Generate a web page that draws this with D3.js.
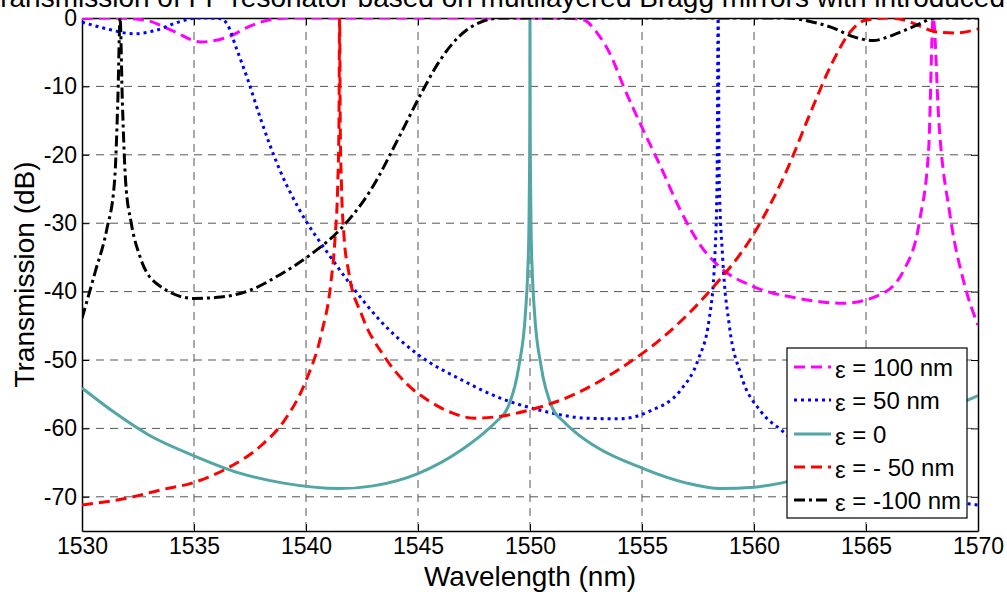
<!DOCTYPE html>
<html>
<head>
<meta charset="utf-8">
<script src="https://cdn.jsdelivr.net/npm/d3@7"></script>
<style>
  html, body { margin: 0; padding: 0; background: #fff; }
  svg { display: block; font-family: "Liberation Sans", Arial, sans-serif; }
</style>
</head>
<body>
<svg id="chart" width="1007" height="592"></svg>
<script>
// ---------- data (wavelength nm, transmission dB) ----------
const titleText = "Transmission of FP resonator based on multilayered Bragg mirrors with introduced";
const xLabel = "Wavelength (nm)";
const yLabel = "Transmission (dB)";
const xTicks = [1530, 1535, 1540, 1545, 1550, 1555, 1560, 1565, 1570];
const yTicks = [0, -10, -20, -30, -40, -50, -60, -70];

const eps100 = [[1530,-0.1],[1531.5,0],[1532.8,-0.3],[1534,-1.8],[1535.3,-3.5],[1536.5,-2.8],[1537.5,-1.2],[1538.5,-0.2],[1539.5,0],
  [1551.5,0],[1552.4,-0.3],[1553,-2.2],[1553.6,-5.4],[1554.15,-9.8],[1555,-16],[1555.8,-21.5],[1556.7,-28],[1557.6,-33.2],[1558.5,-36.5],
  [1560,-39.3],[1562,-41],[1564,-41.7],[1565.6,-40.5],[1566.7,-36.8],[1567.4,-29.5],[1567.8,-19],[1568,0],[1568.25,-15],[1568.75,-28.8],[1569.4,-39],[1570,-44.9]];

const eps50 = [[1530,-0.6],[1531,-1.5],[1532.3,-2.3],[1533.3,-1.8],[1534.3,-0.6],[1535.2,0],[1536.2,-0.1],[1536.5,-1],[1536.9,-4.5],[1537.4,-9],
  [1538,-15],[1538.8,-22],[1539.7,-28],[1541,-34.5],[1542,-39],[1543.3,-44.2],[1545,-49.2],[1547,-53],[1548.7,-55.6],[1550.4,-57.3],
  [1552.5,-58.5],[1554,-58.6],[1555.4,-57.4],[1556.7,-54.5],[1557.5,-50],[1558,-44],[1558.25,-35],[1558.35,-24],[1558.4,0],[1558.45,-24],
  [1558.6,-35],[1558.9,-45],[1559.4,-52],[1560.3,-57.5],[1561.2,-60.2],[1562.5,-63.5],[1564,-66],[1566,-68.5],[1568,-70.2],[1570,-71.2]];

const eps0 = [[1530,-54.1],[1531.5,-57.8],[1533,-61],[1535,-64],[1537,-66.5],[1539,-68],[1541.5,-68.8],[1543,-68.4],[1545,-66.6],[1547,-63],
  [1548,-60.5],[1548.5,-59],[1549,-57],[1549.5,-51],[1549.8,-43],[1549.9,-37],[1549.95,-31],[1549.98,-22],[1549.99,-16],[1550,0],
  [1550.01,-16],[1550.02,-22],[1550.05,-31],[1550.1,-37],[1550.2,-43],[1550.5,-51],[1551,-57],[1551.5,-59],[1552,-60.5],[1553,-62.8],[1555,-65.8],
  [1557,-68],[1558.5,-68.8],[1560,-68.6],[1561.2,-68],[1563,-66.5],[1565,-64],[1567,-60.5],[1568.5,-57.5],[1570,-55.2]];

const epsM50 = [[1530,-71.2],[1532,-70.2],[1533.5,-69],[1535,-67.9],[1536.5,-65.8],[1538,-62.5],[1539,-59],[1540,-53],[1540.7,-46],[1541.1,-39],
  [1541.3,-32],[1541.42,-24],[1541.47,-16],[1541.5,0],[1541.53,-16],[1541.58,-24],[1541.7,-32],[1541.9,-37],[1542.5,-43.5],[1543.5,-49.5],
  [1544.5,-53.5],[1545.5,-56],[1546.5,-57.7],[1547.5,-58.5],[1548.5,-58.3],[1550,-57.3],[1552,-55],[1554,-51.3],[1556,-46.5],[1558,-40],
  [1560,-31.5],[1561.5,-22],[1562.5,-14],[1563.5,-6.5],[1564.3,-2],[1565,-0.3],[1566,0],[1566.8,-0.4],[1567.5,-1.3],[1568.1,-2],[1569,-2.2],[1570,-1.6]];

const epsM100 = [[1530,-43.9],[1530.6,-37],[1531.1,-31],[1531.45,-24],[1531.6,-12],[1531.7,0],[1531.8,-12],[1531.95,-24],[1532.2,-30],
  [1532.6,-35],[1533.4,-39],[1535,-41],[1536.2,-40.8],[1537.5,-39.8],[1538.8,-37.6],[1540.2,-34.6],[1541.5,-31],[1542.9,-25.1],
  [1544.2,-17.1],[1545.1,-11.3],[1546,-6.1],[1546.9,-2.5],[1547.8,-0.6],[1548.7,0],[1561.5,0],[1562.5,-0.5],[1563.4,-1.3],[1564.5,-2.8],
  [1565.3,-3.3],[1566.2,-2.5],[1567.3,-1],[1568.1,0],[1570,0]];

const seriesNames = ["ε = 100 nm", "ε = 50 nm", "ε = 0", "ε = - 50 nm", "ε = -100 nm"];
const seriesData = [eps100, eps50, eps0, epsM50, epsM100];
const seriesColors = ["#ff00ff", "#0000ff", "#52a6a6", "#ff0000", "#000000"];
const seriesDash = ["11,6", "3,4", null, "11,6", "11,4,3,4"];

// ---------- layout ----------
const svg = d3.select("#chart");
const L = 82, T = 18, R = 978, B = 531;
const x = d3.scaleLinear().domain([1530, 1570]).range([L, R]);
const y = d3.scaleLinear().domain([-75, 0]).range([B, T]);

svg.append("defs").append("clipPath").attr("id", "plotclip")
  .append("rect").attr("x", L).attr("y", T).attr("width", R - L).attr("height", B - T);

// title (partially cut off at top)
svg.append("text").attr("x", 1005).attr("y", 7).attr("text-anchor", "end")
  .attr("font-size", 28).attr("fill", "#000").text(titleText);

// grid
const grid = svg.append("g");
grid.selectAll("line.gx").data(xTicks.slice(1, -1)).join("line")
  .attr("x1", d => x(d)).attr("x2", d => x(d)).attr("y1", T).attr("y2", B)
  .attr("stroke", "#555").attr("stroke-width", 1).attr("stroke-dasharray", "8,6");
grid.selectAll("line.gy").data(yTicks.slice(1)).join("line")
  .attr("x1", L).attr("x2", R).attr("y1", d => y(d)).attr("y2", d => y(d))
  .attr("stroke", "#555").attr("stroke-width", 1).attr("stroke-dasharray", "8,6");

// axes (MATLAB-style, ticks inward, box)
const fmt = d => String(d);
const axB = d3.axisBottom(x).tickValues(xTicks).tickFormat(fmt).tickSizeInner(-7).tickSizeOuter(0).tickPadding(7);
const axT = d3.axisTop(x).tickValues(xTicks).tickFormat("").tickSizeInner(-7).tickSizeOuter(0);
const axLft = d3.axisLeft(y).tickValues(yTicks).tickFormat(fmt).tickSizeInner(-7).tickSizeOuter(0).tickPadding(5);
const axRt = d3.axisRight(y).tickValues(yTicks).tickFormat("").tickSizeInner(-7).tickSizeOuter(0);

function styleAxis(g) {
  g.selectAll("path").attr("stroke", "#000").attr("stroke-width", 1.5);
  g.selectAll("line").attr("stroke", "#000").attr("stroke-width", 1);
  g.selectAll("text").attr("font-size", 23).attr("fill", "#000")
    .attr("font-family", "'Liberation Sans', Arial, sans-serif");
}
svg.append("g").attr("transform", `translate(0,${B})`).call(axB).call(styleAxis);
svg.append("g").attr("transform", `translate(0,${T})`).call(axT).call(styleAxis);
svg.append("g").attr("transform", `translate(${L},0)`).call(axLft).call(styleAxis);
svg.append("g").attr("transform", `translate(${R},0)`).call(axRt).call(styleAxis);

// axis labels
svg.append("text").attr("x", (L + R) / 2).attr("y", 586).attr("text-anchor", "middle")
  .attr("font-size", 28).attr("fill", "#000").text(xLabel);
svg.append("text").attr("transform", `translate(34,${(T + B) / 2}) rotate(-90)`).attr("text-anchor", "middle")
  .attr("font-size", 28).attr("fill", "#000").text(yLabel);

// curves
const line = d3.line().x(d => x(d[0])).y(d => y(d[1])).curve(d3.curveMonotoneX);
const curves = svg.append("g").attr("clip-path", "url(#plotclip)");
seriesData.forEach((data, i) => {
  curves.append("path").datum(data).attr("d", line)
    .attr("fill", "none").attr("stroke", seriesColors[i]).attr("stroke-width", 3)
    .attr("stroke-dasharray", seriesDash[i])
    .attr("stroke-linejoin", "round");
});

// legend
const lg = svg.append("g");
lg.append("rect").attr("x", 787).attr("y", 348).attr("width", 180).attr("height", 170)
  .attr("fill", "#fff").attr("stroke", "#000").attr("stroke-width", 1.2);
const rowBase = [376, 409, 443, 476, 509];
seriesNames.forEach((name, i) => {
  lg.append("line").attr("x1", 794).attr("x2", 831).attr("y1", rowBase[i] - 9).attr("y2", rowBase[i] - 9)
    .attr("stroke", seriesColors[i]).attr("stroke-width", 3).attr("stroke-dasharray", seriesDash[i]);
  const t = lg.append("text").attr("x", 835).attr("y", rowBase[i]).attr("font-size", 24).attr("fill", "#000");
  t.append("tspan").attr("dy", 2).text(name.slice(0, 1));
  t.append("tspan").attr("dy", -2).text(name.slice(1));
});
</script>
</body>
</html>
